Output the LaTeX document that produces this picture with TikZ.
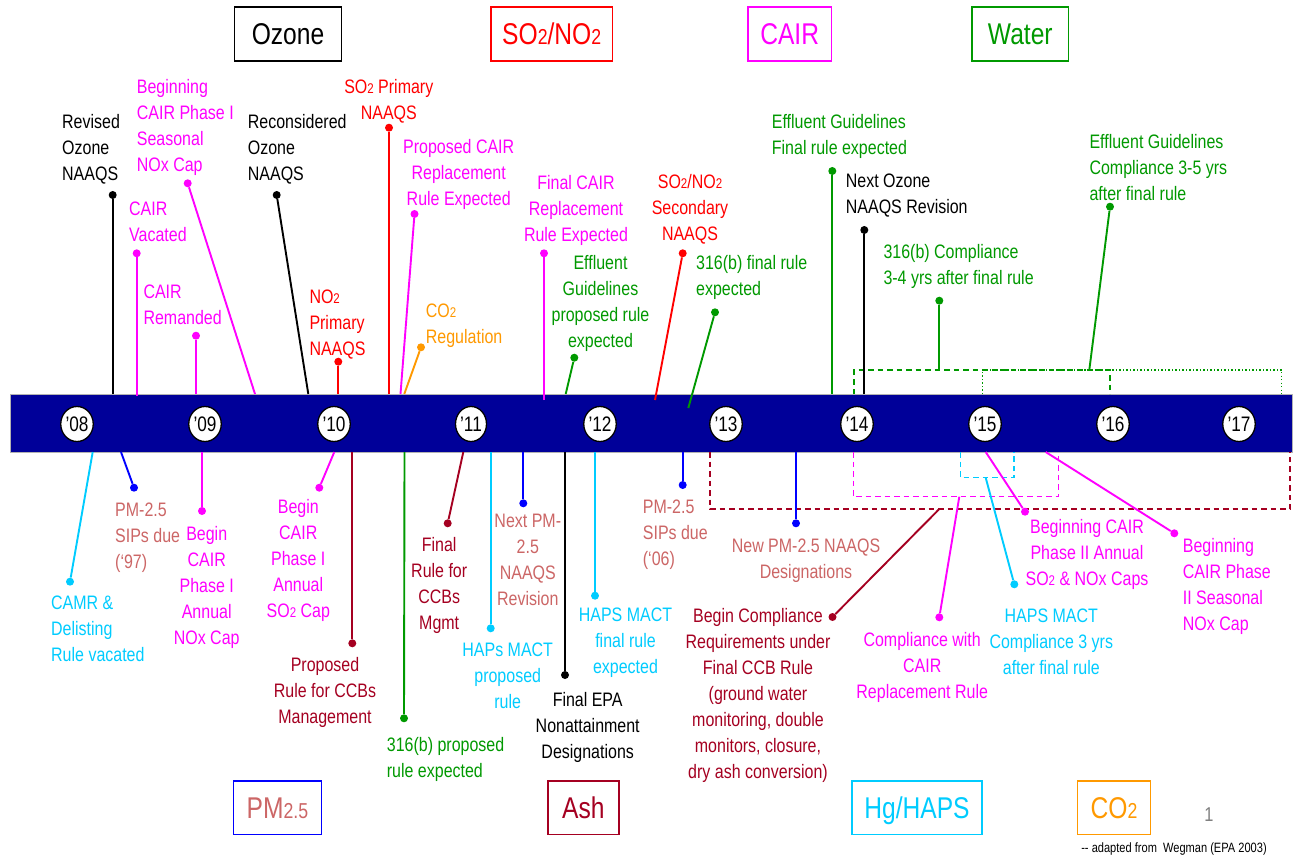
\documentclass[tikz,border=0pt]{standalone}
\usepackage{fontspec}
\setmainfont{Liberation Sans}[FakeStretch=0.82]
\usetikzlibrary{shapes.geometric}
\definecolor{cmag}{RGB}{255,0,255}
\definecolor{cred}{RGB}{255,0,0}
\definecolor{cgreen}{RGB}{0,153,0}
\definecolor{ccyan}{RGB}{0,204,255}
\definecolor{csal}{RGB}{204,102,102}
\definecolor{cdkred}{RGB}{165,0,33}
\definecolor{corange}{RGB}{255,153,0}
\definecolor{cblue}{RGB}{0,0,255}
\definecolor{cbar}{RGB}{0,0,153}
\newcommand\lblfont{\fontsize{19.5}{26}\selectfont}
\newcommand\ssub[1]{\scalebox{0.72}{#1}}
\newcommand\ev[8]{%
  \node[dot=#2] (d#1) at (#3) {};
  \coordinate (b#1) at (#4);
  \draw[conn=#2] (b#1) -- (d#1);
  \node[#5, text=#6] (t#1) at (#7) {\strut #8};
}
\tikzset{
  lbl/.style={font=\lblfont, inner sep=0pt, yshift=11.2pt},
  lblL/.style={lbl, anchor=north west, align=left},
  lblC/.style={lbl, anchor=north, align=center},
  dot/.style={circle, fill=#1, inner sep=0pt, minimum size=8pt},
  conn/.style={draw=#1, line width=1.9pt},
  tbox/.style={draw=#1, text=#1, line width=1.5pt, inner sep=0pt, minimum height=54pt,
    font=\fontsize{30}{36}\selectfont, text height=21.5pt, text depth=0pt},
  yr/.style={ellipse, draw=black, line width=1.3pt, fill=white, inner sep=0pt,
    minimum width=31pt, minimum height=35pt, font=\fontsize{21}{25}\selectfont,
    text height=15pt, text depth=0pt},
  bar/.style={draw=gray!60, line width=1pt, fill=cbar, inner sep=0pt,
    minimum width=1282pt, minimum height=58pt},
  dsh/.style={line width=1.5pt, dash pattern=on 5.5pt off 4pt},
  dtt/.style={line width=1.3pt, dash pattern=on 1.3pt off 2.2pt},
}
\begin{document}
\begin{tikzpicture}[x=1pt,y=-1pt]
\useasboundingbox[fill=white] (0,0) rectangle (1295,858);

% category boxes
\node[tbox=black, minimum width=106.6pt] (bOz) at (288,34) {Ozone};
\node[tbox=cred, minimum width=121.4pt] (bSO) at (551.7,34) {SO\ssub{2}/NO\ssub{2}};
\node[tbox=cmag, minimum width=83.4pt] (bCA) at (789.7,34) {CAIR};
\node[tbox=cgreen, minimum width=96.6pt] (bWa) at (1020.3,34) {Water};
\node[tbox=cblue, text=csal, minimum width=88pt, minimum height=53.3pt] (bPM) at (277.5,807.7) {PM\ssub{2.5}};
\node[tbox=cdkred, minimum width=71.2pt, minimum height=53.3pt] (bAs) at (583.4,807.7) {Ash};
\node[tbox=ccyan, minimum width=130pt, minimum height=53.3pt] (bHg) at (917,807.7) {Hg/HAPS};
\node[tbox=corange, minimum width=72.6pt, minimum height=53.3pt] (bCO) at (1114,807.7) {CO\ssub{2}};
\node[text=gray, font=\fontsize{20}{24}\selectfont, inner sep=0pt] (pg) at (1209,815) {1};
\node[font=\fontsize{13.5}{16}\selectfont, inner sep=0pt] (src) at (1174,849) {-{}- adapted from\ \ Wegman (EPA 2003)};

% timeline bar
\node[bar] (bar) at (651,423) {};

% dashed spans
\draw[cdkred, dsh] (710,452) -- (710,509) -- (1290,509) -- (1290,452);
\draw[cmag, dsh] (853.3,452) -- (853.3,496.7) -- (1058.3,496.7) -- (1058.3,452);
\draw[ccyan, dsh] (960.7,452) -- (960.7,477.7) -- (1014,477.7) -- (1014,452);
\draw[cgreen, dsh] (854,394) -- (854,370) -- (1110,370) -- (1110,394);
\draw[cgreen, dtt] (982.3,394) -- (982.3,370) -- (1281.7,370) -- (1281.7,394);

% events above the bar
\ev{1}{black}{112.7,195}{112.7,394}{lblL}{black}{62,121.5}{Revised\\Ozone\\NAAQS}
\ev{2}{cmag}{187.7,183.3}{255,394}{lblL}{cmag}{136.7,86.7}{Beginning\\CAIR Phase I\\Seasonal\\NOx Cap}
\ev{3}{cmag}{136.7,253.3}{136.7,396}{lblL}{cmag}{129,208.3}{CAIR\\Vacated}
\ev{4}{cmag}{196,335.7}{196,394}{lblL}{cmag}{143.3,291}{CAIR\\Remanded}
\ev{5}{black}{276.7,195}{308.3,394}{lblL}{black}{247.7,121.7}{Reconsidered\\Ozone\\NAAQS}
\ev{6}{cred}{338.3,361.7}{338.3,394}{lblL}{cred}{309.3,296}{NO\ssub{2}\\Primary\\NAAQS}
\ev{7}{cred}{389,127.7}{389,394}{lblC}{cred}{388.8,86.7}{SO\ssub{2} Primary\\NAAQS}
\ev{8}{cmag}{414.5,214}{400.5,394}{lblC}{cmag}{458.7,146}{Proposed CAIR\\Replacement\\Rule Expected}
\ev{9}{corange}{421,347.3}{404.3,394}{lblL}{corange}{425.7,310}{CO\ssub{2}\\Regulation}
\ev{10}{cmag}{544,253.3}{544,400}{lblC}{cmag}{576,182.7}{Final CAIR\\Replacement\\Rule Expected}
\ev{11}{cgreen}{574.3,357.7}{565.7,394}{lblC}{cgreen}{600.5,262.7}{Effluent\\Guidelines\\proposed rule\\expected}
\ev{12}{cred}{682.7,253.3}{655,400}{lblC}{cred}{690,181.7}{SO\ssub{2}/NO\ssub{2}\\Secondary\\NAAQS}
\ev{13}{cgreen}{715,312.3}{688.3,408}{lblL}{cgreen}{696,262.7}{316(b) final rule\\expected}
\ev{14}{cgreen}{832.3,171}{832.3,394}{lblL}{cgreen}{771.7,121.7}{Effluent Guidelines\\Final rule expected}
\ev{15}{black}{864.3,230}{864.3,394}{lblL}{black}{845.7,180.7}{Next Ozone\\NAAQS Revision}
\ev{16}{cgreen}{939.3,300.7}{939.3,370}{lblL}{cgreen}{883.3,251}{316(b) Compliance\\3-4 yrs after final rule}
\ev{17}{cgreen}{1110,206.7}{1089.3,370}{lblL}{cgreen}{1089.3,141}{Effluent Guidelines\\Compliance 3-5 yrs\\after final rule}

% events below the bar
\ev{18}{ccyan}{70,581.7}{92.7,452}{lblL}{ccyan}{51,602.7}{CAMR \&\\Delisting\\Rule vacated}
\ev{19}{cblue}{134,487.7}{121,452}{lblL}{csal}{115,509.3}{PM-2.5\\SIPs due\\(‘97)}
\ev{20}{cmag}{202,511}{202,452}{lblC}{cmag}{206.7,533.3}{Begin\\CAIR\\Phase I\\Annual\\NOx Cap}
\ev{21}{cmag}{319.3,487.7}{334.3,452}{lblC}{cmag}{298.3,506.7}{Begin\\CAIR\\Phase I\\Annual\\SO\ssub{2} Cap}
\ev{22}{cdkred}{352.3,643.3}{352.3,452}{lblC}{cdkred}{325,664}{Proposed\\Rule for CCBs\\Management}
\ev{23}{cgreen}{404,718.3}{404.5,452}{lblL}{cgreen}{386.7,744}{316(b) proposed\\rule expected}
\ev{24}{cdkred}{447.7,523.3}{463.3,452}{lblC}{cdkred}{439.2,544.3}{Final\\Rule for\\CCBs\\Mgmt}
\ev{25}{ccyan}{490.7,628.3}{490.7,452}{lblC}{ccyan}{507.7,649.3}{HAPs MACT\\proposed\\rule}
\ev{26}{cblue}{523.3,503.3}{523.3,452}{lblC}{csal}{527.8,520.7}{Next PM-\\2.5\\NAAQS\\Revision}
\ev{27}{black}{565,675}{565,452}{lblC}{black}{587.7,699}{Final EPA\\Nonattainment\\Designations}
\ev{28}{ccyan}{595,595.7}{595,452}{lblC}{ccyan}{625.5,614.3}{HAPS MACT\\final rule\\expected}
\ev{29}{cblue}{682.7,485}{682.7,452}{lblL}{csal}{642.7,506}{PM-2.5\\SIPs due\\(‘06)}
\ev{30}{cblue}{796,523.3}{796,452}{lblC}{csal}{806,545}{New PM-2.5 NAAQS\\Designations}
\ev{31}{cdkred}{832.5,617}{939.3,509}{lblC}{cdkred}{758,615}{Begin Compliance\\Requirements under\\Final CCB Rule\\(ground water\\monitoring, double\\monitors, closure,\\dry ash conversion)}
\ev{32}{cmag}{939.3,617.3}{959.3,496.7}{lblC}{cmag}{922.2,639.3}{Compliance with\\CAIR\\Replacement Rule}
\ev{33}{ccyan}{1014.3,584.3}{985.7,477.7}{lblC}{ccyan}{1051.3,615}{HAPS MACT\\Compliance 3 yrs\\after final rule}
\ev{34}{cmag}{1025,511.7}{985.7,452}{lblC}{cmag}{1087,526.7}{Beginning CAIR\\Phase II Annual\\SO\ssub{2} \& NOx Caps}
\ev{35}{cmag}{1174.3,533.3}{1045.7,452}{lblL}{cmag}{1182.7,545.7}{Beginning\\CAIR Phase\\II Seasonal\\NOx Cap}

% year markers
\node[yr] (y08) at (77,424) {’08};
\node[yr] (y09) at (205,424) {’09};
\node[yr] (y10) at (334,424) {’10};
\node[yr] (y11) at (471,424) {’11};
\node[yr] (y12) at (600,424) {’12};
\node[yr] (y13) at (726,424) {’13};
\node[yr] (y14) at (857,424) {’14};
\node[yr] (y15) at (985,424) {’15};
\node[yr] (y16) at (1113,424) {’16};
\node[yr] (y17) at (1239,424) {’17};
\end{tikzpicture}
\end{document}
